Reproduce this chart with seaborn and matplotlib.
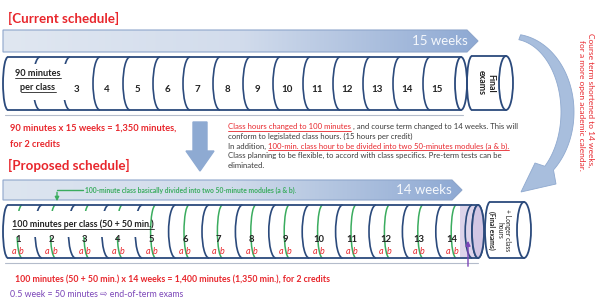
import numpy as np
import matplotlib
matplotlib.use("Agg")
import matplotlib.pyplot as plt
import seaborn as sns
from matplotlib import font_manager as fm
from matplotlib.patches import Polygon, Arc, Ellipse, Rectangle
from matplotlib.colors import LinearSegmentedColormap

# chart content
current_title = "[Current schedule]"
proposed_title = "[Proposed schedule]"
current_labels = ["3", "4", "5", "6", "7", "8", "9", "10", "11", "12", "13", "14", "15"]
current_first = ["90 minutes", "per class"]
proposed_labels = ["1", "2", "3", "4", "5", "6", "7", "8", "9", "10", "11", "12", "13", "14"]
module_labels = ["a", "b"]
current_weeks = "15 weeks"
proposed_weeks = "14 weeks"
current_total = ["90 minutes x 15 weeks = 1,350 minutes,", "for 2 credits"]
proposed_total = "100 minutes (50 + 50 min.) x 14 weeks = 1,400 minutes (1,350 min.), for 2 credits"
exam_note = "0.5 week = 50 minutes \u21e8 end-of-term exams"
proposed_first = "100 minutes per class (50 + 50 min.)"
module_note = "100-minute class basically divided into two 50-minute modules (a & b)."
final_exam_lines = ["+ Longer class", "hours", "(Final exams)"]
side_note = ["Course term shortened to 14 weeks,", "for a more open academic calendar."]
# (text, red?, underlined?)
notes = [
    [("Class hours changed to 100 minutes", True, True),
     (", and course term changed to 14 weeks. This will", False, False)],
    [("conform to legislated class hours. (15 hours per credit)", False, False)],
    [("In addition,", False, False),
     ("100-min. class hour to be divided into two 50-minutes modules (a & b).", True, True)],
    [("Class planning to be flexible, to accord with class specifics. Pre-term tests can be", False, False)],
    [("eliminated.", False, False)],
]

RED = "#e8262c"
DARK = "#3a3a3a"
NAVY = "#2b4a7c"
GREEN = "#3aac5e"
PURPLE = "#7b45b8"
ARROW = "#a8bedd"

sns.set_theme(style="white")

# pick a humanist sans that really has a bold face
family = 'DejaVu Sans'
for cand in ['Lato', 'Open Sans', 'Noto Sans', 'Liberation Sans']:
    weights = [f.weight for f in fm.fontManager.ttflist if f.name == cand]
    if any((w if isinstance(w, int) else 700 if w == 'bold' else 400) >= 600 for w in weights):
        family = cand
        break
plt.rcParams['font.family'] = [family, 'DejaVu Sans']

fig = plt.figure(figsize=(5.99, 3.0), dpi=100)
ax = fig.add_axes([0, 0, 1, 1])
ax.set_xlim(0, 599)
ax.set_ylim(300, 0)
ax.axis('off')
renderer = fig.canvas.get_renderer()


def put(x, y, s, color, size, weight='normal', underline=False, style='normal'):
    t = ax.text(x, y, s, color=color, fontsize=size, fontweight=weight,
                fontstyle=style, ha='left', va='baseline', zorder=6)
    w = t.get_window_extent(renderer).width
    if underline:
        ax.plot([x, x + w], [y + 1.6, y + 1.6], color=color, lw=0.6, zorder=6)
    return x + w


def band(x0, x1, tip, y0, y1, colors):
    ym = (y0 + y1) / 2
    poly = Polygon([(x0, y0), (x1, y0), (tip, ym), (x1, y1), (x0, y1)],
                   closed=True, facecolor='none', edgecolor='#8ea6cb', lw=0.8, zorder=3)
    ax.add_patch(poly)
    cmap = LinearSegmentedColormap.from_list('b', colors)
    grad = np.linspace(0, 1, 256).reshape(1, -1)
    im = ax.imshow(grad, cmap=cmap, extent=[x0, tip, y1, y0], aspect='auto', zorder=2)
    im.set_clip_path(poly)


def cylinder(x0, x1, y0, y1, endw, fill='white', lw=1.3):
    ym = (y0 + y1) / 2
    h = y1 - y0
    ax.add_patch(Rectangle((x0 + 5, y0), x1 - x0 - 5, h, facecolor=fill, edgecolor='none', zorder=2))
    ax.add_patch(Ellipse((x0 + 5, ym), 10, h, facecolor=fill, edgecolor='none', zorder=2))
    ax.plot([x0 + 5, x1], [y0, y0], color=NAVY, lw=lw, zorder=4)
    ax.plot([x0 + 5, x1], [y1, y1], color=NAVY, lw=lw, zorder=4)
    ax.add_patch(Arc((x0 + 5, ym), 10, h, theta1=90, theta2=270, color=NAVY, lw=lw, zorder=4))
    ax.add_patch(Ellipse((x1, ym), endw, h, facecolor=fill, edgecolor=NAVY, lw=lw, zorder=4))


def divider(c, y0, y1, color=NAVY, w=14, lw=1.2):
    ax.add_patch(Arc((c, (y0 + y1) / 2), w, y1 - y0, theta1=90, theta2=270,
                     color=color, lw=lw, zorder=3))


# ---- current schedule ----
ax.text(8, 18, current_title, color=RED, fontsize=9.6, fontweight='bold', va='center', ha='left')
band(3, 467, 478, 30, 52, ['#e0e7f1', '#d2dcec', '#8ea9d3'])
ax.text(440, 41, current_weeks, color='#f5f8fc', fontsize=9.5, va='center', ha='center', zorder=5)

cy0, cy1 = 57, 110
cur_x = [17 + 30 * i for i in range(15)]
cylinder(3, cur_x[-1] + 24, cy0, cy1, 12)
for i in range(14):
    divider(cur_x[i] + 23, cy0, cy1)
ax.add_patch(Rectangle((9, 64), 58, 36, facecolor='white', edgecolor='none', zorder=3.5))
for lab, x in zip(current_labels, cur_x[2:]):
    ax.text(x, 90, lab, color='#222222', fontsize=7, fontweight='bold', ha='center', va='center', zorder=5)
for j, s in enumerate(current_first):
    t = ax.text(38, 76 + 14 * j, s, color='#222222', fontsize=6.6, fontweight='bold',
                ha='center', va='baseline', zorder=6)
    w = t.get_window_extent(renderer).width
    ax.plot([38 - w / 2, 38 + w / 2], [78 + 14 * j, 78 + 14 * j], color='#222222', lw=0.6, zorder=6)

# final exams cylinder
cylinder(467, 506, 56, 110, 14)
ax.text(486, 83, "Final\nexams", color='#222222', fontsize=6.3, fontweight='bold', rotation=-90,
        ha='center', va='center', linespacing=1.0, zorder=6)
ax.plot([5, 463], [115, 115], color='#b4bccb', lw=0.8, zorder=1)

for j, s in enumerate(current_total):
    ax.text(10, 131 + 16 * j, s, color=RED, fontsize=6.7, fontweight='bold', ha='left', va='baseline')

# down arrow
ax.add_patch(Polygon([(193, 122), (207, 122), (207, 151), (214, 151), (200, 171), (186, 151), (193, 151)],
                     closed=True, facecolor='#8eaad2', edgecolor='#8eaad2', zorder=3))

# explanatory text
base = [129, 139, 148.5, 158, 168]
for parts, yb in zip(notes, base):
    x = 228
    for k, (s, red, ul) in enumerate(parts):
        x = put(x, yb, s, RED if red else DARK, 5.6, underline=ul)
        x += 1.8

# ---- proposed schedule ----
ax.text(8, 165, proposed_title, color=RED, fontsize=9.6, fontweight='bold', va='center', ha='left')
band(3, 452, 462, 180, 200, ['#dde5f0', '#d0dbeb', '#8ea9d3'])
ax.text(424, 190, proposed_weeks, color='#f5f8fc', fontsize=9.5, va='center', ha='center', zorder=5)
ax.text(85, 190, module_note, color=GREEN, fontsize=4.9, fontweight='bold', va='center', ha='left', zorder=5)
ax.plot([83, 57], [190, 190], color=GREEN, lw=1.0, zorder=5)
ax.annotate("", xy=(57, 204), xytext=(57, 189.5),
            arrowprops=dict(arrowstyle='-|>', color=GREEN, lw=1.0, mutation_scale=6), zorder=5)

py0, py1 = 205, 258
prop_x = [18 + 33.4 * i for i in range(14)]
cylinder(3, 478, py0, py1, 12)
ax.add_patch(Rectangle((460, py0 + 0.7), 18, py1 - py0 - 1.4, facecolor='#ddd4ea', edgecolor='none', zorder=2.5))
ax.add_patch(Ellipse((478, (py0 + py1) / 2), 12, py1 - py0, facecolor='#d2c6e4', edgecolor=NAVY, lw=1.3, zorder=4))
for i in range(13):
    divider(prop_x[i] + 24, py0, py1)
divider(prop_x[13] + 20, py0, py1)
for x in prop_x:
    divider(x + 4, py0, py1, color=GREEN, w=10, lw=1.1)
ax.add_patch(Rectangle((9, 211), 134, 26, facecolor='white', edgecolor='none', zorder=3.5))
put(12, 227, proposed_first, '#222222', 6.4, weight='bold', underline=True)
for lab, x in zip(proposed_labels, prop_x):
    ax.text(x, 240, lab, color='#222222', fontsize=6.8, fontweight='bold', ha='center', va='center', zorder=5)
    for m, dx in zip(module_labels, (-4, 3.5)):
        ax.text(x + dx, 252, m, color=RED, fontsize=6.5, fontstyle='italic', ha='center', va='center', zorder=5)

# final exam cylinder (proposed)
cylinder(485, 524, 202, 258, 14)
for s, x, wt in zip(final_exam_lines, (508, 500, 492), ('normal', 'normal', 'bold')):
    ax.text(x, 230, s, color='#222222', fontsize=4.9, fontweight=wt, rotation=-90,
            ha='center', va='center', zorder=6)
ax.plot([5, 478], [263, 263], color='#b4bccb', lw=0.8, zorder=1)
ax.annotate("", xy=(468, 238), xytext=(468, 269),
            arrowprops=dict(arrowstyle='-|>', color=PURPLE, lw=1.0, mutation_scale=7), zorder=6)

ax.text(15, 282, proposed_total, color=RED, fontsize=6.3, fontweight='bold', ha='left', va='baseline')
ax.text(10, 297, exam_note, color=PURPLE, fontsize=6.3, ha='left', va='baseline')

# curved arrow on the right
t = np.radians(np.linspace(-82, 48, 60))
outer = np.c_[512 + 62 * np.cos(t), 112 + 78 * np.sin(t)]
inner = np.c_[512 + 49 * np.cos(t), 112 + 73 * np.sin(t)][::-1]
head = np.array([[556, 184], [521, 192], [535, 163]])
ax.add_patch(Polygon(np.vstack([outer, head, inner]), closed=True, facecolor=ARROW,
                     edgecolor='#8fa9cf', lw=0.6, zorder=3))

# vertical side note
ax.text(591, 33, side_note[0], color=RED, fontsize=6.0, rotation=-90, ha='center', va='top')
ax.text(581, 40, side_note[1], color=RED, fontsize=6.0, rotation=-90, ha='center', va='top')

fig.savefig("out.png", dpi=100)
